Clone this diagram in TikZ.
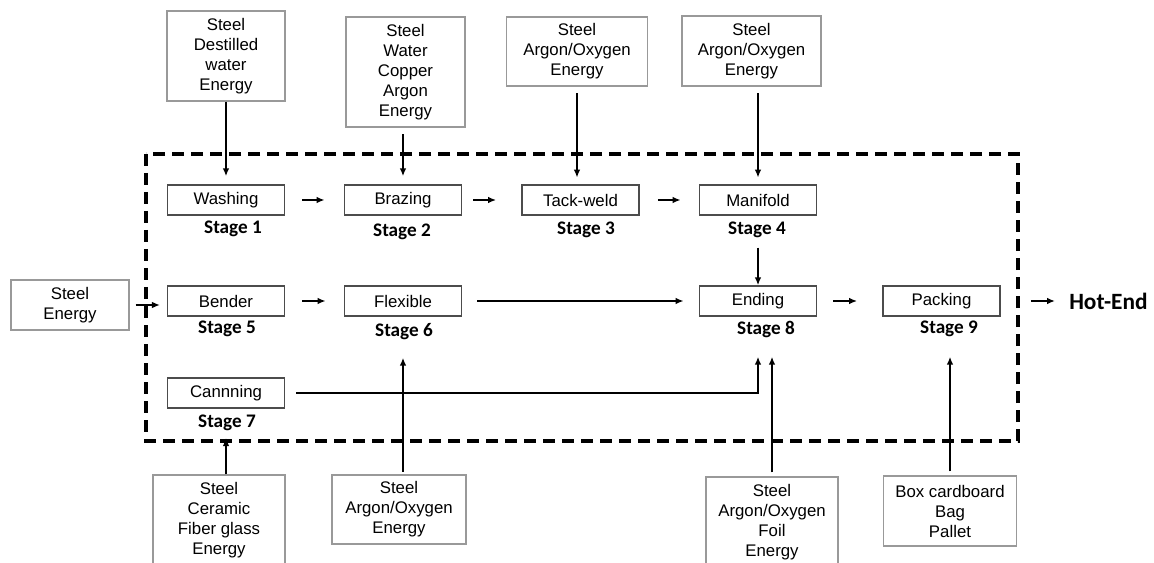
\documentclass[tikz,border=0pt]{standalone}
\usepackage{fontspec}
\setmainfont{Liberation Sans}
\newfontfamily\calfont{Carlito}
\usepackage{tikz}
\usetikzlibrary{arrows.meta}

\begin{document}
\begin{tikzpicture}[x=0.75pt, y=-0.75pt,
	>={Latex[length=6pt,width=5pt]},
	font=\fontsize{12.6}{15}\selectfont,
	src/.style={draw=black!40, line width=0.8pt, align=center, inner sep=0pt},
	proc/.style={draw=black!70, line width=1.1pt, minimum width=88pt, minimum height=22.5pt, inner sep=0pt},
	stage/.style={font=\calfont\bfseries\fontsize{14.4}{16}\selectfont, inner sep=0pt},
	flow/.style={->, line width=1.5pt}]

	\useasboundingbox (0,0) rectangle (1154,563);

	% system boundary
	\draw[line width=2.7pt, dash pattern=on 9pt off 5.25pt] (146,154) rectangle (1018,441);

	\node[src, minimum width=88.5pt, minimum height=67.5pt]   (in1) at (226,56)    {Steel\\Destilled\\water\\Energy};
	\node[src, minimum width=89.25pt, minimum height=82.5pt]  (in2) at (405.5,72)  {Steel\\Water\\Copper\\Argon\\Energy};
	\node[src, minimum width=105.75pt, minimum height=51.75pt] (in3) at (577,51.5) {Steel\\Argon/Oxygen\\Energy};
	\node[src, minimum width=104.25pt, minimum height=52.5pt] (in4) at (751.5,51)  {Steel\\Argon/Oxygen\\Energy};
	\node[src, minimum width=88.5pt, minimum height=37.5pt]   (in5) at (70,305)    {Steel\\Energy};
	\node[src, minimum width=100.5pt, minimum height=51.75pt] (in6) at (399,509.5) {Steel\\Argon/Oxygen\\Energy};
	\node[src, minimum width=99pt, minimum height=67.5pt]     (in7) at (219,520)   {Steel\\Ceramic\\Fiber glass\\Energy};
	\node[src, minimum width=99pt, minimum height=67.5pt]     (in8) at (772,522)   {Steel\\Argon/Oxygen\\Foil\\Energy};
	\node[src, minimum width=99.75pt, minimum height=52.5pt]  (in9) at (950,511) {Box cardboard\\Bag\\Pallet};

	\node[proc] (wash) at (226,200)   {Washing};
	\node[proc] (braz) at (403,200)   {Brazing};
	\node[proc] (tack) at (580.5,200) {Tack-weld};
	\node[proc] (mani) at (758,200) {Manifold};
	\node[proc] (bend) at (226,301) {Bender};
	\node[proc] (flex) at (403,301)   {Flexible};
	\node[proc] (endi) at (758,301) {Ending};
	\node[proc] (pack) at (941.5,301) {Packing};
	\node[proc] (cann) at (226,393) {Cannning};

	\node[stage] (st1) at (233,229) {Stage 1};
	\node[stage] (st2) at (402,232) {Stage 2};
	\node[stage] (st3) at (586,230) {Stage 3};
	\node[stage] (st4) at (757,230) {Stage 4};
	\node[stage] (st5) at (227,329) {Stage 5};
	\node[stage] (st6) at (404,332) {Stage 6};
	\node[stage] (st7) at (227,423) {Stage 7};
	\node[stage] (st8) at (766,329) {Stage 8};
	\node[stage] (st9) at (949,329) {Stage 9};

	\node[anchor=west, inner sep=0pt, font=\calfont\bfseries\fontsize{17.5}{20}\selectfont] (hot) at (1069,301) {Hot-End};

	% main line
	\path[flow] (wash) edge[shorten <=12.75pt, shorten >=14.25pt] (braz);
	\path[flow] (braz) edge[shorten <=8.25pt, shorten >=18.75pt] (tack);
	\path[flow] (tack) edge[shorten <=13.5pt, shorten >=13.5pt] (mani);
	\path[flow] (mani.south) edge[shorten <=24pt] (endi.north);
	\path[flow] (bend) edge[shorten <=12.75pt, shorten >=13.5pt] (flex);
	\path[flow] (flex) edge[shorten <=11.25pt, shorten >=11.25pt] (endi);
	\path[flow] (endi) edge[shorten <=12pt, shorten >=18.75pt] (pack);
	\path[flow] (pack) edge[shorten <=22.5pt, shorten >=10.5pt] (hot);
	\draw[flow, shorten <=8pt, shorten >=30pt] (cann.east) -| (endi.south);

	% inputs
	\path[flow] (wash |- in1.south) edge[shorten >=6pt] (wash.north);
	\path[flow] (braz |- in2.south) edge[shorten <=5pt, shorten >=6pt] (braz.north);
	\path[flow] (in3.south) edge[shorten <=5pt, shorten >=5pt] (in3.south |- tack.north);
	\path[flow] (mani |- in4.south) edge[shorten <=5pt, shorten >=5pt] (mani.north);
	\path[flow] (in5.east) edge[shorten <=4.5pt, shorten >=5pt] (in5.east -| bend.west);
	\path[flow] (flex |- in6.north) edge[shorten <=2pt, shorten >=30.75pt] (flex.south);
	\path[flow] (cann |- in7.north) edge[shorten >=22pt] (cann.south);
	\path[flow] (in8.north) edge[shorten <=3pt, shorten >=30pt] (in8.north |- endi.south);
	\path[flow] (in9.north) edge[shorten <=3pt, shorten >=30pt] (in9.north |- pack.south);

\end{tikzpicture}
\end{document}
